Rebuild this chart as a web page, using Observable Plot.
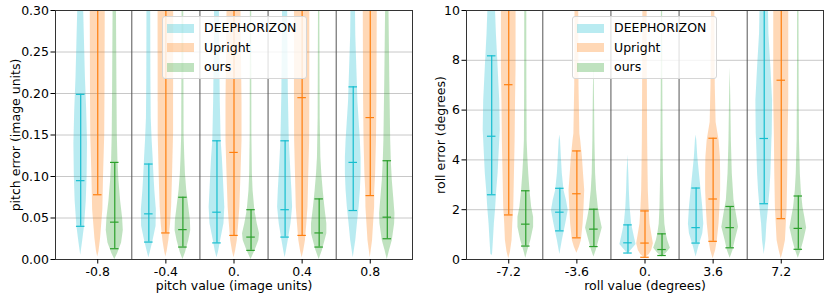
<!DOCTYPE html>
<html>
<head>
<meta charset="utf-8">
<script src="https://cdn.jsdelivr.net/npm/d3@7"></script>
<script src="https://cdn.jsdelivr.net/npm/@observablehq/plot@0.6"></script>
<style>
  html, body { margin: 0; padding: 0; background: #fff; }
  #wrap { display: flex; width: 830px; height: 299px; font-family: "DejaVu Sans", sans-serif; }
  .panel { position: relative; width: 415px; height: 299px; }
  .legend { position: absolute; background: rgba(255,255,255,0.8); border: 1px solid #d6d6d6; border-radius: 3px;
            box-sizing: border-box; font-size: 12.5px; color: #000; }
  .legend .row { position: absolute; left: 4px; height: 10px; display: flex; align-items: center; }
  .legend .sw { width: 27px; height: 9px; margin-right: 10px; }
  .legend .lab { white-space: nowrap; line-height: 1; }
</style>
</head>
<body>
<div id="wrap"></div>
<script>
// ---------------- data ----------------
const seriesNames = ["DEEPHORIZON", "Upright", "ours"];
const seriesColors = ["#17becf", "#ff7f0e", "#2ca02c"];

const pitchGroups = ["-0.8", "-0.4", "0.", "0.4", "0.8"];
const rollGroups = ["-7.2", "-3.6", "0.", "3.6", "7.2"];

// [lower, median, upper] per group, per series (values beyond the axis are off-chart)
const pitchStats = {
  "DEEPHORIZON": [[0.040, 0.095, 0.199], [0.021, 0.055, 0.115], [0.020, 0.057, 0.143], [0.027, 0.060, 0.143], [0.059, 0.117, 0.208]],
  "Upright":     [[0.078, 0.36, 0.60],   [0.032, 0.34, 0.60],   [0.029, 0.129, 0.55],  [0.029, 0.195, 0.55],  [0.077, 0.171, 0.55]],
  "ours":        [[0.013, 0.045, 0.117], [0.015, 0.036, 0.075], [0.011, 0.027, 0.060], [0.015, 0.032, 0.073], [0.025, 0.051, 0.119]]
};
const rollStats = {
  "DEEPHORIZON": [[2.60, 4.95, 8.18], [1.15, 1.90, 2.86], [0.26, 0.67, 1.39], [0.66, 1.28, 2.87], [2.24, 4.86, 14.0]],
  "Upright":     [[1.79, 7.02, 14.0], [0.87, 2.64, 4.36], [0.09, 0.66, 1.95], [0.73, 2.43, 4.87], [1.64, 7.20, 14.0]],
  "ours":        [[0.54, 1.42, 2.76], [0.52, 1.22, 2.02], [0.16, 0.40, 1.03], [0.47, 1.28, 2.13], [0.41, 1.25, 2.55]]
};

// violin outlines: [value, relative half-width] per group, per series
const pitchShapes = {
  "DEEPHORIZON": [
    [[0.005,0],[0.02,0.2],[0.04,0.45],[0.07,0.65],[0.10,0.75],[0.14,0.8],[0.18,0.7],[0.22,0.55],[0.26,0.45],[0.30,0.35],[0.35,0.3]],
    [[0.002,0],[0.01,0.2],[0.023,0.5],[0.04,0.85],[0.06,0.88],[0.083,0.7],[0.103,0.59],[0.123,0.5],[0.143,0.39],[0.17,0.28],[0.22,0.24],[0.3,0.22],[0.35,0.2]],
    [[0.002,0],[0.01,0.2],[0.023,0.43],[0.043,0.82],[0.063,0.92],[0.083,0.82],[0.103,0.73],[0.123,0.63],[0.143,0.49],[0.19,0.39],[0.27,0.3],[0.35,0.27]],
    [[0.002,0],[0.01,0.15],[0.023,0.37],[0.043,0.69],[0.063,0.88],[0.083,0.8],[0.103,0.69],[0.143,0.49],[0.2,0.38],[0.3,0.3],[0.35,0.28]],
    [[0.002,0],[0.023,0.3],[0.043,0.49],[0.063,0.69],[0.083,0.84],[0.103,0.92],[0.123,0.92],[0.143,0.84],[0.19,0.55],[0.27,0.3],[0.3,0.27],[0.35,0.25]]
  ],
  "Upright": [
    [[0.003,0],[0.01,0.15],[0.025,0.33],[0.06,0.6],[0.10,0.68],[0.15,0.82],[0.2,0.85],[0.3,0.88],[0.35,0.9]],
    [[0.003,0],[0.01,0.15],[0.023,0.35],[0.043,0.55],[0.063,0.67],[0.10,0.78],[0.15,0.9],[0.3,0.92],[0.35,0.92]],
    [[0.002,0],[0.01,0.18],[0.023,0.39],[0.043,0.55],[0.063,0.69],[0.103,0.82],[0.143,0.94],[0.19,0.94],[0.3,0.82],[0.35,0.8]],
    [[0.002,0],[0.01,0.18],[0.023,0.39],[0.043,0.55],[0.063,0.69],[0.103,0.78],[0.143,0.88],[0.2,0.9],[0.3,0.9],[0.35,0.9]],
    [[0.002,0],[0.023,0.27],[0.043,0.39],[0.063,0.51],[0.083,0.53],[0.103,0.63],[0.143,0.73],[0.19,0.78],[0.3,0.82],[0.35,0.82]]
  ],
  "ours": [
    [[0,0],[0.007,0.33],[0.02,0.8],[0.035,1.0],[0.05,0.92],[0.07,0.69],[0.095,0.49],[0.12,0.37],[0.15,0.3],[0.2,0.26],[0.3,0.2],[0.35,0.18]],
    [[0,0],[0.008,0.3],[0.023,0.69],[0.035,0.92],[0.047,0.88],[0.063,0.69],[0.083,0.45],[0.103,0.3],[0.123,0.22],[0.15,0.14],[0.3,0.1],[0.35,0.1]],
    [[0,0],[0.011,0.49],[0.023,0.92],[0.031,1.0],[0.043,0.73],[0.059,0.45],[0.083,0.24],[0.103,0.16],[0.15,0.1],[0.3,0.08],[0.35,0.08]],
    [[0,0],[0.011,0.39],[0.023,0.69],[0.031,0.9],[0.043,0.9],[0.063,0.67],[0.083,0.47],[0.103,0.31],[0.123,0.2],[0.17,0.12],[0.3,0.08],[0.35,0.08]],
    [[0,0],[0.011,0.27],[0.023,0.59],[0.043,0.86],[0.055,0.9],[0.071,0.78],[0.095,0.59],[0.119,0.47],[0.143,0.4],[0.22,0.29],[0.3,0.2],[0.35,0.18]]
  ]
};
const rollShapes = {
  "DEEPHORIZON": [
    [[0.15,0],[0.22,0.1],[0.76,0.2],[1.43,0.31],[2.1,0.47],[2.77,0.59],[3.44,0.75],[4.78,0.94],[5.2,1.0],[6.39,0.94],[7.72,0.75],[9.06,0.55],[10,0.45],[11,0.4]],
    [[0.2,0],[0.76,0.29],[1.43,0.69],[1.97,0.98],[2.37,0.78],[2.77,0.49],[3.44,0.29],[4.11,0.18],[4.78,0.08],[5.0,0]],
    [[0.2,0],[0.36,0.35],[0.6,0.95],[0.9,0.75],[1.43,0.43],[2.1,0.25],[2.77,0.16],[3.44,0.1],[4.2,0]],
    [[0.1,0],[0.5,0.31],[1.03,0.78],[1.43,0.9],[2.1,0.78],[2.77,0.59],[3.44,0.39],[4.11,0.2],[4.78,0.08],[5.0,0]],
    [[0.2,0],[0.76,0.2],[1.43,0.31],[2.1,0.51],[2.77,0.67],[3.44,0.78],[4.78,0.9],[5.05,0.94],[6.39,0.98],[7.72,0.78],[9.06,0.55],[10,0.5],[11,0.48]]
  ],
  "Upright": [
    [[0.03,0],[0.3,0.2],[0.76,0.39],[1.43,0.47],[2.1,0.59],[3.44,0.67],[4.78,0.75],[6.39,0.8],[7.72,0.86],[10,0.86],[11,0.86]],
    [[0.25,0],[0.5,0.3],[0.76,0.53],[1.43,0.73],[2.1,0.84],[2.77,0.92],[3.44,0.78],[4.11,0.65],[4.78,0.45],[5.05,0.35],[7,0.25],[10,0.22],[11,0.22]],
    [[0.05,0],[0.2,0.5],[0.36,0.78],[0.63,0.98],[1.03,0.78],[1.43,0.59],[2.1,0.47],[2.77,0.39],[3.44,0.36],[4.78,0.31],[7,0.28],[10,0.25],[11,0.25]],
    [[0.03,0],[0.36,0.29],[0.76,0.49],[1.43,0.69],[2.1,0.8],[2.77,0.88],[3.44,0.88],[4.11,0.85],[4.78,0.7],[5.5,0.35],[7,0.25],[10,0.2],[11,0.2]],
    [[0.03,0],[0.36,0.25],[0.76,0.49],[1.43,0.59],[2.1,0.69],[3.44,0.76],[4.78,0.8],[6.39,0.88],[10,0.88],[11,0.88]]
  ],
  "ours": [
    [[0.05,0],[0.36,0.24],[0.76,0.59],[1.3,0.92],[1.7,0.92],[2.1,0.69],[2.77,0.49],[3.44,0.35],[4.11,0.24],[4.78,0.16],[7,0.13],[10,0.12],[11,0.12]],
    [[0.1,0],[0.36,0.27],[0.76,0.59],[1.27,0.98],[1.73,0.69],[2.1,0.51],[2.77,0.31],[3.44,0.2],[4.78,0.12],[6.5,0.07],[7.5,0.03],[7.6,0]],
    [[0.1,0],[0.25,0.5],[0.45,0.98],[0.76,0.67],[1.03,0.49],[1.43,0.33],[2.1,0.24],[3.44,0.16],[4.78,0.12],[7,0.09],[10,0.07],[11,0.07]],
    [[0.05,0],[0.36,0.33],[0.76,0.59],[1.3,0.98],[1.83,0.73],[2.37,0.45],[3.44,0.25],[4.78,0.14],[6.5,0.07],[7.7,0]],
    [[0.05,0],[0.36,0.33],[0.76,0.65],[1.27,0.98],[1.73,0.75],[2.1,0.55],[2.77,0.35],[3.44,0.24],[4.78,0.14],[7,0.1],[10,0.08],[11,0.08]]
  ]
};

const pitchTicks = [0, 0.05, 0.10, 0.15, 0.20, 0.25, 0.30];
const rollTicks = [0, 2, 4, 6, 8, 10];

// ---------------- drawing ----------------
const OFFSET = [-0.25, 0, 0.25];
const HALF = 0.125;   // max violin half-width (group units)
const CAP = 0.0625;   // cap half-length

function panel(cfg) {
  const shapeRows = [];
  const statRows = [];
  seriesNames.forEach((s, si) => {
    cfg.shapes[s].forEach((prof, g) => {
      prof.forEach(([v, w]) => shapeRows.push({s, si, g, v, w, key: s + g}));
    });
    cfg.stats[s].forEach(([lo, med, hi], g) => {
      statRows.push({s, si, g, lo, med, hi});
    });
  });
  const capRows = statRows.flatMap(d => [
    {...d, val: d.lo}, {...d, val: d.med}, {...d, val: d.hi}
  ]);
  const xc = d => d.g + OFFSET[d.si];
  return Plot.plot({
    width: 415, height: 299,
    marginLeft: cfg.ml, marginRight: cfg.mr, marginTop: 10, marginBottom: 40,
    style: {fontFamily: "DejaVu Sans, sans-serif", fontSize: "12.5px", color: "#000", background: "transparent"},
    x: {domain: [-0.62, 4.62]},
    y: {domain: cfg.ydomain},
    color: {domain: seriesNames, range: seriesColors},
    marks: [
      Plot.gridY(cfg.yticks, {stroke: "#b0b0b0", strokeOpacity: 0.7, strokeWidth: 1}),
      Plot.ruleX([0.5, 1.5, 2.5, 3.5], {stroke: "#555", strokeWidth: 1}),
      Plot.areaX(shapeRows, {
        y: "v", x1: d => xc(d) - d.w * HALF, x2: d => xc(d) + d.w * HALF,
        z: "key", fill: "s", fillOpacity: 0.3, curve: "linear", clip: true
      }),
      Plot.ruleX(statRows, {x: xc, y1: "lo", y2: "hi", stroke: "s", strokeWidth: 1.2, clip: true}),
      Plot.ruleY(capRows, {y: "val", x1: d => xc(d) - CAP, x2: d => xc(d) + CAP, stroke: "s", strokeWidth: 1.2, clip: true}),
      Plot.frame({stroke: "#333", strokeWidth: 1}),
      Plot.axisY(cfg.yticks, {tickFormat: cfg.yfmt, tickSize: 4.5, tickPadding: 2, label: cfg.ylabel,
        labelAnchor: "center", labelArrow: "none", labelOffset: cfg.ylabOff, fontSize: 12.5}),
      Plot.axisX([0, 1, 2, 3, 4], {tickFormat: i => cfg.groups[i], tickSize: 4.5, tickPadding: 3, label: cfg.xlabel,
        labelAnchor: "center", labelArrow: "none", labelOffset: 30, fontSize: 12.5})
    ]
  });
}

function legend(left, top) {
  const div = document.createElement("div");
  div.className = "legend";
  Object.assign(div.style, {left: left + "px", top: top + "px", width: "145px", height: "63px"});
  seriesNames.forEach((s, i) => {
    const row = document.createElement("div");
    row.className = "row";
    row.style.top = (6 + i * 19.8) + "px";
    const sw = document.createElement("div");
    sw.className = "sw";
    sw.style.background = seriesColors[i];
    sw.style.opacity = 0.3;
    const lab = document.createElement("span");
    lab.className = "lab";
    lab.textContent = s;
    row.appendChild(sw); row.appendChild(lab);
    div.appendChild(row);
  });
  return div;
}

const wrap = document.getElementById("wrap");
const p1 = document.createElement("div"); p1.className = "panel";
p1.appendChild(panel({
  shapes: pitchShapes, stats: pitchStats, groups: pitchGroups, ydomain: [0, 0.30], yticks: pitchTicks,
  yfmt: d3.format(".2f"), ylabel: "pitch error (image units)", xlabel: "pitch value (image units)",
  ml: 55, mr: 3, ylabOff: 44
}));
p1.appendChild(legend(162, 16));
const p2 = document.createElement("div"); p2.className = "panel";
p2.appendChild(panel({
  shapes: rollShapes, stats: rollStats, groups: rollGroups, ydomain: [0, 10], yticks: rollTicks,
  yfmt: d3.format("d"), ylabel: "roll error (degrees)", xlabel: "roll value (degrees)",
  ml: 51, mr: 7, ylabOff: 30
}));
p2.appendChild(legend(572, 16 ).cloneNode(true));
// position second legend relative to its panel
p2.lastChild.style.left = (572 - 415) + "px";
wrap.appendChild(p1); wrap.appendChild(p2);
</script>
</body>
</html>
